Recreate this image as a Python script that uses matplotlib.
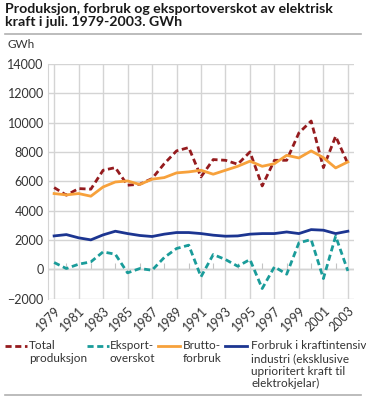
import matplotlib
matplotlib.use("Agg")
import matplotlib.pyplot as plt
from matplotlib.lines import Line2D

years = list(range(1979, 2004))

total_produksjon = [5570, 5050, 5500, 5460, 6750, 6930, 5730, 5800, 6180, 7200,
                    8070, 8300, 6300, 7480, 7430, 7160, 8000, 5680, 7430, 7430,
                    9300, 10110, 6930, 9070, 7200]
eksportoverskot = [455, 45, 340, 500, 1180, 1020, -250, 45, -70, 800,
                   1410, 1640, -520, 1000, 660, 200, 660, -1320, 160, -340,
                   1800, 2020, -640, 2250, -120]
bruttoforbruk = [5160, 5070, 5160, 4980, 5610, 5950, 6020, 5780, 6140, 6250,
                 6570, 6640, 6750, 6480, 6750, 7020, 7370, 7020, 7200, 7770,
                 7590, 8070, 7610, 6910, 7320]
kraftintensiv = [2270, 2360, 2140, 2000, 2340, 2590, 2430, 2300, 2230, 2390,
                 2500, 2500, 2430, 2320, 2250, 2270, 2390, 2430, 2430, 2540,
                 2430, 2700, 2660, 2430, 2590]

labels = ["Total\nproduksjon", "Eksport-\noverskot", "Brutto-\nforbruk",
          "Forbruk i kraftintensiv\nindustri (eksklusive\nuprioritert kraft til\nelektrokjelar)"]
colors = ["#951b1e", "#1a9c9a", "#f7a13b", "#1c3591"]

plt.rcParams['font.family'] = ['Lato', 'DejaVu Sans']
grid_c = "#d4d4d4"
text_c = "#333333"

fig = plt.figure(figsize=(3.66, 3.97), dpi=100)
ax = fig.add_axes([48/366, 1 - 298.5/397, 306/366, 234.5/397])

ax.plot(years, total_produksjon, color=colors[0], lw=2, ls=(0, (2.2, 1.3)))
ax.plot(years, eksportoverskot, color=colors[1], lw=2, ls=(0, (2.2, 1.3)))
ax.plot(years, bruttoforbruk, color=colors[2], lw=2)
ax.plot(years, kraftintensiv, color=colors[3], lw=2)

ax.set_xlim(1978.5, 2003.5)
ax.set_ylim(-2000, 14000)
ax.set_yticks(range(-2000, 14001, 2000))
ax.set_xticks(years[::2])
ax.set_xticklabels([str(y) for y in years[::2]], rotation=45, ha="right",
                   rotation_mode="anchor")
ax.tick_params(axis="both", length=0, labelsize=9, colors=text_c, pad=3)
ax.tick_params(axis="x", pad=4)
ax.grid(True, color=grid_c, lw=1)
ax.set_axisbelow(True)
for s in ["top", "right", "bottom"]:
    ax.spines[s].set_visible(False)
ax.spines["left"].set_color(grid_c)
ax.axhline(0, color="#c4c4c4", lw=1, zorder=0.5)

# small ticks on zero line at the even years
sec = ax.secondary_xaxis(2000 / 16000)
sec.set_xticks(years[1::2])
sec.tick_params(direction="in", length=4, color="#c4c4c4", labelbottom=False,
                labeltop=False)
sec.set_xticklabels([])
sec.spines["bottom"].set_visible(False)
sec.spines["top"].set_visible(False)

fig.text(5/366, 1 - 3/397, "Produksjon, forbruk og eksportoverskot av elektrisk\nkraft i juli. 1979-2003. GWh",
         fontsize=10.2, fontweight="bold", va="top", ha="left", color="#1a1a1a",
         linespacing=1.05)
fig.add_artist(Line2D([5/366, 361/366], [1 - 33.5/397] * 2, color="#b0b0b0", lw=1.2))
fig.add_artist(Line2D([5/366, 361/366], [1 - 395/397] * 2, color="#b0b0b0", lw=1.2))
fig.text(8/366, 1 - 48/397, "GWh", fontsize=8.5, color=text_c, va="baseline")

# legend
hx = [5, 87, 158, 225]
tx = [29, 110, 183, 251]
styles = [(0, (2.2, 1.3)), (0, (2.2, 1.3)), "-", "-"]
for i in range(4):
    fig.add_artist(Line2D([hx[i]/366, (hx[i] + 22)/366], [1 - 346/397] * 2,
                          color=colors[i], lw=2, ls=styles[i]))
    fig.text(tx[i]/366, 1 - 340/397, labels[i], fontsize=8.5, color=text_c,
             va="top", ha="left", linespacing=1.2)

fig.savefig("out.png", dpi=100)
